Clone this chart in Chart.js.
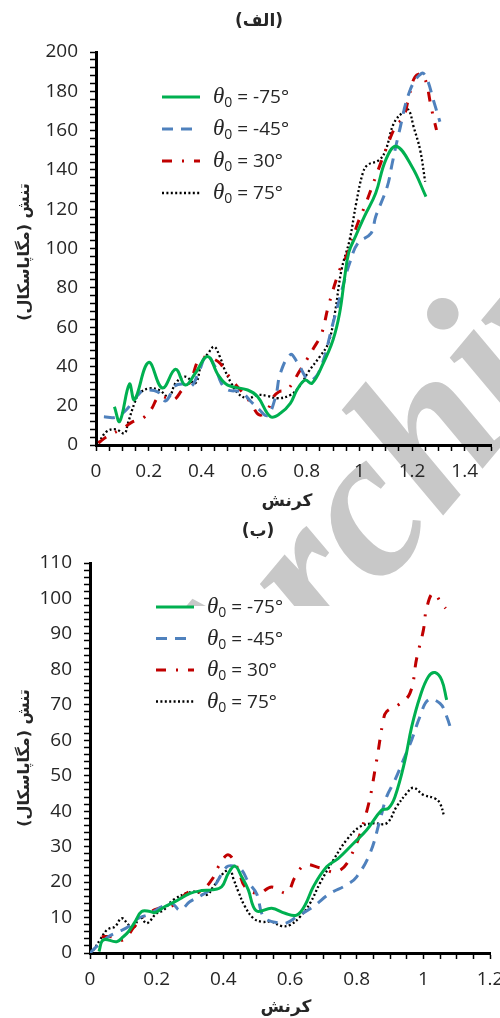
<!DOCTYPE html>
<html lang="fa">
<head>
<meta charset="UTF-8" />
<title>تنش - کرنش</title>
<script src="https://cdn.jsdelivr.net/npm/chart.js"></script>
<style>
  body { margin: 0; background: #fff; }
  #page { position: relative; width: 500px; height: 1018px; overflow: hidden; }
  #mark, #chartA, #chartB { position: absolute; left: 0; }
  #mark { top: 0; }
  #chartA { top: 0; }
  #chartB { top: 515px; }
</style>
</head>
<body>
<div id="page">
  <canvas id="mark" width="500" height="1018"></canvas>
  <canvas id="chartA" width="500" height="515"></canvas>
  <canvas id="chartB" width="520" height="503"></canvas>
</div>

<script>
// legend angles (theta_0, degrees)
const angles = ['-75', '-45', '30', '75'];

// chart (الف): [strain, stress MPa]
const a_m75 = [[0.07,19.5],[0.09,12],[0.127,31],[0.146,23],[0.2,42],[0.252,29],[0.302,38.5],[0.339,30.5],[0.377,36.5],[0.424,45],[0.464,35.6],[0.5,30.5],[0.576,28],[0.614,24.6],[0.663,14.4],[0.7,16.1],[0.738,21.2],[0.763,28],[0.794,33],[0.82,31.4],[0.863,41.6],[0.9,53.4],[0.925,67],[0.944,85],[0.96,98],[0.985,106],[1.019,116.2],[1.062,128.1],[1.1,145],[1.14,152],[1.2,141.6],[1.253,126.4]];
const a_m45 = [[0.03,14.4],[0.071,14],[0.108,17],[0.14,22],[0.17,27],[0.2,28],[0.235,27],[0.265,22.5],[0.3,30],[0.33,31],[0.36,29.7],[0.389,36.6],[0.42,45.5],[0.452,39.8],[0.476,31.4],[0.5,28],[0.551,27],[0.589,22],[0.62,18],[0.651,15],[0.682,24.6],[0.70,36.5],[0.738,46],[0.763,42.4],[0.81,33],[0.85,38.2],[0.9,62],[0.944,84],[0.963,92.5],[0.994,102.6],[1.044,107.7],[1.062,116.2],[1.106,131.5],[1.125,143.4],[1.15,158.6],[1.193,180.7],[1.237,189.2],[1.256,186.6],[1.281,175.6],[1.306,164.5]];
const a_30 = [[0.009,1],[0.04,4.2],[0.102,8.5],[0.14,11.9],[0.177,13.6],[0.208,17.8],[0.239,24.6],[0.27,24],[0.296,23],[0.327,28],[0.358,32.2],[0.389,43.3],[0.414,44.6],[0.464,42.4],[0.501,35.6],[0.564,25.4],[0.589,21.2],[0.62,15.3],[0.651,17.8],[0.67,23.8],[0.695,27.1],[0.726,28],[0.776,38.2],[0.8,43.3],[0.826,49.2],[0.857,56.8],[0.882,70.4],[0.925,89],[0.95,95.8],[0.994,112.8],[1.025,123],[1.062,136.5],[1.1,150.1],[1.137,162],[1.168,167],[1.187,176.4],[1.212,187.4],[1.243,188.3],[1.275,170.5],[1.293,160.3]];
const a_75 = [[0.009,1],[0.04,6.8],[0.075,8],[0.108,6],[0.121,11],[0.146,21.2],[0.165,26.3],[0.202,28.8],[0.24,28],[0.277,24.6],[0.302,31.4],[0.339,34.8],[0.377,31.4],[0.401,41.6],[0.426,46.7],[0.449,50],[0.47,45],[0.489,38.2],[0.514,31.4],[0.539,26.3],[0.576,23.8],[0.614,25.4],[0.651,25],[0.688,23.8],[0.738,25.4],[0.776,30.5],[0.807,37.3],[0.85,45],[0.882,51.8],[0.907,67],[0.932,89],[0.963,104.3],[0.988,123],[1.013,138.3],[1.031,142.5],[1.075,145],[1.1,150.1],[1.131,163.7],[1.168,169.6],[1.187,170.5],[1.206,162],[1.231,150.1],[1.25,134]];

// chart (ب)
const b_m75 = [[0.027,0.4],[0.04,3.7],[0.08,3.2],[0.1,4.6],[0.115,6],[0.135,8.8],[0.155,11.7],[0.18,11.7],[0.195,11.4],[0.225,13.1],[0.255,14.5],[0.3,16.8],[0.335,17.6],[0.365,17.8],[0.395,18.7],[0.415,22.5],[0.435,24.5],[0.455,21.5],[0.475,17.8],[0.49,13.1],[0.505,11.7],[0.545,12.6],[0.585,11.2],[0.62,10.7],[0.645,13.5],[0.67,18.7],[0.71,24.3],[0.745,26.7],[0.79,30.9],[0.83,34.7],[0.875,40.3],[0.895,40.8],[0.915,44.1],[0.945,54.4],[0.965,63.8],[0.99,72.3],[1.015,77.9],[1.035,79.1],[1.055,77],[1.07,71.4]];
const b_m45 = [[0,0],[0.025,2.3],[0.055,4.6],[0.085,6],[0.115,7.4],[0.145,9.8],[0.18,11],[0.21,12.8],[0.245,14],[0.27,12.1],[0.3,14.5],[0.33,16],[0.37,18.6],[0.41,24.3],[0.433,24.5],[0.455,23.4],[0.475,20],[0.5,16.7],[0.515,11.2],[0.53,9.4],[0.57,8.4],[0.59,8.5],[0.62,10.2],[0.67,13.1],[0.72,16.8],[0.77,19.2],[0.8,21.5],[0.84,28.1],[0.87,37.5],[0.89,44.1],[0.915,48.8],[0.94,54.4],[0.965,60.1],[0.99,66.7],[1.015,71.4],[1.05,70.4],[1.07,66.7],[1.085,62.4]];
const b_30 = [[0.035,4.6],[0.065,4.6],[0.1,3.7],[0.132,7.3],[0.165,10.7],[0.21,12.7],[0.25,13.5],[0.295,17.2],[0.33,17.3],[0.365,20.6],[0.385,24.3],[0.41,27.6],[0.425,27],[0.445,23.4],[0.465,18.7],[0.505,16.8],[0.545,18.6],[0.59,17],[0.615,21.4],[0.645,24.8],[0.69,24],[0.74,22.9],[0.78,26.8],[0.83,39.9],[0.86,54.4],[0.88,65.7],[0.89,68.1],[0.925,70],[0.96,73.3],[0.98,83.1],[1.0,91],[1.01,97.3],[1.03,101.5],[1.056,98.4],[1.067,97.2]];
const b_75 = [[0.01,0.8],[0.03,3.7],[0.05,6.5],[0.06,7],[0.075,7.4],[0.095,9.8],[0.115,8],[0.13,7],[0.15,10.2],[0.17,8.4],[0.2,11.2],[0.22,12],[0.25,15],[0.31,17.3],[0.35,16.4],[0.37,18.7],[0.4,22.5],[0.42,23.4],[0.43,21],[0.445,17.3],[0.465,13.1],[0.49,9.8],[0.515,8.8],[0.545,8.8],[0.575,7.6],[0.6,7.9],[0.63,10.2],[0.66,14],[0.69,19.7],[0.73,26.2],[0.77,31.9],[0.81,35.6],[0.85,36.6],[0.89,36.6],[0.92,41.3],[0.95,45],[0.97,46.6],[1.0,44.6],[1.035,43.6],[1.05,42.2],[1.063,38.4]];

const textColor = '#262626';
const arabicFont = '"DejaVu Sans"';
const numFont = '"Open Sans"';

const styles = [
  { color: '#00B050', dash: [], width: 3 },
  { color: '#4F81BD', dash: [11, 8], width: 3 },
  { color: '#C00000', dash: [10, 10, 2, 10], width: 3 },
  { color: '#000000', dash: [2, 2.4], width: 2.3 }
];

function steps(max, step) {
  const out = [];
  for (let i = 0; i * step <= max + 1e-9; i++) out.push(Math.round(i * step * 1000) / 1000);
  return out;
}

// faded watermark behind the figure
function drawMark() {
  const c = document.getElementById('mark').getContext('2d');
  c.save();
  c.beginPath(); c.rect(0, 0, 500, 606); c.clip();
  c.translate(238, 760);
  c.rotate(-50 * Math.PI / 180);
  c.font = 'italic bold 210px "Liberation Serif"';
  c.fillStyle = '#c8c8c8';
  c.fillText('Archive', 0, 0);
  c.restore();
}

const captions = {
  id: 'captions',
  afterDraw(chart, args, o) {
    const ctx = chart.ctx;
    ctx.save();
    ctx.fillStyle = textColor;
    ctx.textAlign = 'center';
    ctx.textBaseline = 'middle';
    ctx.font = 'bold 17px ' + arabicFont;
    ctx.fillText(o.title.text, o.title.x, o.title.y);
    ctx.fillText(o.xTitle.text, o.xTitle.x, o.xTitle.y);
    ctx.save();
    ctx.translate(o.yTitle.x, o.yTitle.y);
    ctx.rotate(-Math.PI / 2);
    ctx.font = 'bold 16px ' + arabicFont;
    ctx.fillText(o.yTitle.text, 0, 0);
    ctx.restore();

    // legend
    const L = o.legend;
    chart.data.datasets.forEach((ds, i) => {
      const y = L.y + i * L.step;
      ctx.save();
      ctx.strokeStyle = ds.borderColor;
      ctx.lineWidth = ds.borderWidth;
      ctx.setLineDash(ds.borderDash);
      ctx.beginPath();
      ctx.moveTo(L.x, y);
      ctx.lineTo(L.x + L.len, y);
      ctx.stroke();
      ctx.restore();
      let x = L.textX;
      const base = y + 6;
      ctx.textAlign = 'left';
      ctx.textBaseline = 'alphabetic';
      ctx.font = 'italic 23px "Liberation Serif"';
      ctx.fillText('θ', x, base);
      x += ctx.measureText('θ').width;
      ctx.font = '14px ' + numFont;
      ctx.fillText('0', x, base + 4);
      x += ctx.measureText('0').width;
      ctx.font = '19px ' + numFont;
      ctx.fillText(' = ' + angles[i] + '°', x, base);
    });
    ctx.restore();
  }
};

function makeChart(id, series, cfg) {
  const xTicks = steps(cfg.xMax, 0.05);
  const yTicks = steps(cfg.yMax, cfg.yMinor);
  return new Chart(document.getElementById(id), {
    type: 'scatter',
    data: {
      datasets: series.map((pts, i) => ({
        label: 'θ0 = ' + angles[i] + '°',
        data: pts.map(p => ({ x: p[0], y: p[1] })),
        showLine: true,
        borderColor: styles[i].color,
        borderWidth: styles[i].width,
        borderDash: styles[i].dash,
        borderCapStyle: 'butt',
        tension: 0.4,
        pointRadius: 0,
        fill: false
      }))
    },
    options: {
      responsive: false,
      animation: false,
      events: [],
      layout: { padding: { top: cfg.top, right: cfg.right, bottom: 0, left: 0 } },
      plugins: {
        legend: { display: false },
        tooltip: { enabled: false },
        captions: cfg.captions
      },
      scales: {
        x: {
          type: 'linear', min: 0, max: cfg.xMax,
          afterBuildTicks: s => { s.ticks = xTicks.map(v => ({ value: v })); },
          afterFit: s => { s.height = cfg.xAxisH; },
          ticks: {
            autoSkip: false, maxRotation: 0, padding: 9, color: textColor,
            font: { family: numFont, size: 19 },
            callback: (v, i) => (i % 4 === 0 ? String(Number(v.toFixed(2))) : '')
          },
          grid: { drawOnChartArea: false, tickLength: 6, tickColor: '#000', tickWidth: 1.5 },
          border: { color: '#000', width: 3 }
        },
        y: {
          type: 'linear', min: 0, max: cfg.yMax,
          afterBuildTicks: s => { s.ticks = yTicks.map(v => ({ value: v })); },
          afterFit: s => { s.width = cfg.left; },
          ticks: {
            autoSkip: false, padding: 12, color: textColor,
            font: { family: numFont, size: 19 },
            callback: (v, i) => (i % cfg.yEvery === 0 ? String(v) : '')
          },
          grid: { drawOnChartArea: false, tickLength: 6, tickColor: '#000', tickWidth: 1.5 },
          border: { color: '#000', width: 3 }
        }
      }
    },
    plugins: [captions]
  });
}

drawMark();

makeChart('chartA', [a_m75, a_m45, a_30, a_75], {
  xMax: 1.5, yMax: 200, yMinor: 4, yEvery: 5,
  top: 52, right: 3, left: 96, xAxisH: 70,
  captions: {
    title: { text: '\u200F(الف)\u200F', x: 259, y: 22 },
    xTitle: { text: 'کرنش', x: 287, y: 502 },
    yTitle: { text: '\u200Fتنش (مگاپاسکال)\u200F', x: 25, y: 252 },
    legend: { x: 162, y: 97, step: 32, len: 38, textX: 213 }
  }
});

makeChart('chartB', [b_m75, b_m45, b_30, b_75], {
  xMax: 1.2, yMax: 110, yMinor: 2, yEvery: 5,
  top: 48, right: 30, left: 90, xAxisH: 65,
  captions: {
    title: { text: '\u200F(ب)\u200F', x: 258, y: 17 },
    xTitle: { text: 'کرنش', x: 286, y: 493 },
    yTitle: { text: '\u200Fتنش (مگاپاسکال)\u200F', x: 25, y: 243 },
    legend: { x: 156, y: 92, step: 31.5, len: 38, textX: 207 }
  }
});
</script>
</body>
</html>
